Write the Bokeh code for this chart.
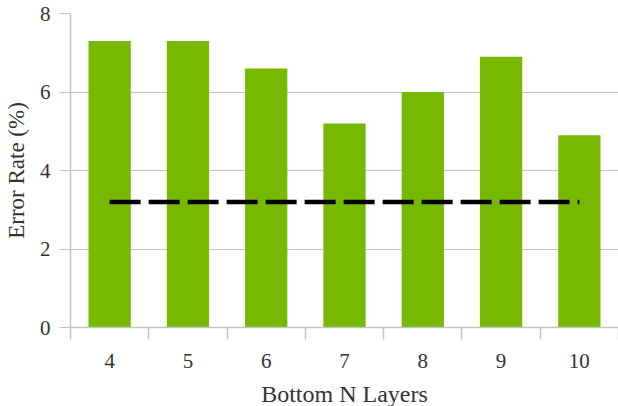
from bokeh.plotting import figure
from bokeh.models import Range1d, FixedTicker, ColumnDataSource
from bokeh.embed import file_html
from bokeh.resources import INLINE

layers = [4, 5, 6, 7, 8, 9, 10]
error_rate = [7.3, 7.3, 6.6, 5.2, 6.0, 6.9, 4.9]
baseline = 3.2
y_ticks = [0, 2, 4, 6, 8]

GREEN = "#76b900"
GRAY = "#c4c4c4"
TEXT = "#333333"
FONT = "Liberation Serif"

p = figure(output_backend="svg", toolbar_location=None,
           frame_width=548, frame_height=314,
           x_range=Range1d(3.5, 10.5), y_range=Range1d(0, 8))
p.min_border_left = 70
p.min_border_right = 0
p.min_border_top = 13
p.min_border_bottom = 79
p.outline_line_color = None
p.background_fill_color = "white"

src = ColumnDataSource(dict(x=layers, top=error_rate))
p.vbar(x="x", top="top", bottom=0, width=0.54, source=src,
       fill_color=GREEN, line_color=None)

p.line(x=[layers[0], layers[-1]], y=[baseline, baseline], line_color="black",
       line_width=4.5, line_dash="31 8", line_cap="butt")

p.xgrid.visible = False
p.ygrid.grid_line_color = GRAY
p.ygrid.grid_line_width = 1.2

p.xaxis.ticker = FixedTicker(ticks=layers, minor_ticks=[v - 0.5 for v in layers] + [layers[-1] + 0.5])
p.yaxis.ticker = FixedTicker(ticks=y_ticks)

for ax in (p.xaxis[0], p.yaxis[0]):
    ax.axis_line_color = GRAY
    ax.axis_line_width = 1.5
    ax.major_label_text_font = FONT
    ax.major_label_text_font_size = "21px"
    ax.major_label_text_color = TEXT
    ax.axis_label_text_font = FONT
    ax.axis_label_text_font_style = "normal"
    ax.axis_label_text_color = TEXT

p.xaxis.axis_label = "Bottom N Layers"
p.xaxis.axis_label_text_font_size = "24px"
p.xaxis.major_tick_out = 0
p.xaxis.major_tick_in = 0
p.xaxis.minor_tick_out = 12
p.xaxis.minor_tick_in = 0
p.xaxis.minor_tick_line_color = GRAY
p.xaxis.minor_tick_line_width = 1.5
p.xaxis.major_label_standoff = 14
p.xaxis.axis_label_standoff = 10

p.yaxis.axis_label = "Error Rate (%)"
p.yaxis.axis_label_text_font_size = "23px"
p.yaxis.major_tick_out = 11
p.yaxis.major_tick_in = 0
p.yaxis.major_tick_line_color = GRAY
p.yaxis.major_tick_line_width = 1.2
p.yaxis.minor_tick_line_color = None
p.yaxis.major_label_standoff = 9
p.yaxis.axis_label_standoff = 8

open("out.html", "w").write(file_html(p, INLINE))
